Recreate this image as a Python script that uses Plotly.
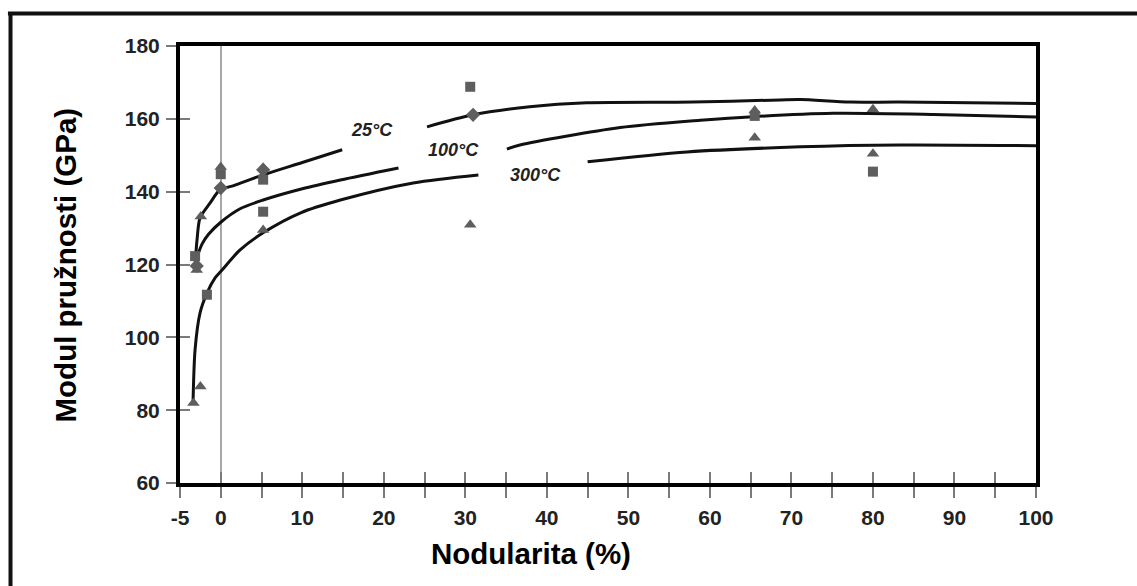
import plotly.graph_objects as go

# ---- data ----
c25_x = [-3.13, -2.9, -2.54, -1.3, -0.09, 1.5, 5.2, 10.0, 14.9, None, 25.3, 30.95, 37.9, 44.9, 57.9, 68.6, 71.1, 77.2, 83.3, 100]
c25_y = [120.5, 127.0, 132.8, 136.9, 140.5, 141.6, 144.6, 148.0, 151.5, None, 157.8, 161.1, 163.3, 164.4, 164.6, 165.2, 165.3, 164.6, 164.6, 164.2]

c100_x = [-2.9, -2.3, -1.5, 0.0, 2.37, 5.2, 10.0, 14.67, 21.8, None, 35.1, 36.7, 49.0, 58.8, 65.3, 75.1, 87.4, 100]
c100_y = [122.1, 125.6, 128.3, 131.6, 135.3, 137.7, 140.8, 143.2, 146.5, None, 151.7, 152.8, 157.6, 159.6, 160.6, 161.5, 161.2, 160.5]

c300_x = [-3.4, -3.15, -2.54, -1.68, -0.7, 0.16, 2.37, 5.19, 9.8, 14.67, 23.6, 31.6, None, 45.0, 57.2, 71.1, 83.3, 100]
c300_y = [82.0, 96.6, 106.7, 112.2, 116.3, 118.5, 124.0, 128.7, 134.2, 137.7, 142.4, 144.6, None, 148.2, 150.9, 152.3, 152.8, 152.6]

sq_x = [-3.15, -1.7, 0.0, 5.2, 5.2, 30.6, 65.5, 80.0]
sq_y = [122.3, 111.7, 144.8, 143.3, 134.5, 168.8, 160.8, 145.5]

tri_x = [-3.35, -2.5, -2.45, -2.95, 0.0, 5.2, 5.2, 30.6, 65.5, 65.5, 80.0, 80.0]
tri_y = [82.0, 86.5, 133.2, 118.5, 146.8, 146.6, 129.5, 130.9, 162.3, 154.8, 162.6, 150.4]

dia_x = [-2.95, 0.0, 5.2, 30.95]
dia_y = [119.6, 141.0, 146.0, 161.1]

labels_text = ["25°C", "100°C", "300°C"]
labels_x = [18.6, 28.5, 38.55]
labels_y = [156.9, 151.5, 144.6]

x_tickvals = [-5, 0, 5, 10, 15, 20, 25, 30, 35, 40, 45, 50, 55, 60, 65, 70, 75, 80, 85, 90, 95, 100]
x_ticktext = ["-5", "0", "", "10", "", "20", "", "30", "", "40", "", "50", "", "60", "", "70", "", "80", "", "90", "", "100"]
y_tickvals = [60, 80, 100, 120, 140, 160, 180]

x_title = "Nodularita (%)"
y_title = "Modul pružnosti (GPa)"

FONT = "Liberation Sans, Arial, sans-serif"
MK = "#5e5e5e"

fig = go.Figure()
for xs, ys in [(c25_x, c25_y), (c100_x, c100_y), (c300_x, c300_y)]:
    fig.add_trace(go.Scatter(x=xs, y=ys, mode="lines", line=dict(color="#111111", width=3, shape="spline", smoothing=0.8),
                             connectgaps=False, hoverinfo="skip", showlegend=False))
fig.add_trace(go.Scatter(x=sq_x, y=sq_y, mode="markers", marker=dict(symbol="square", size=10, color=MK), showlegend=False))
fig.add_trace(go.Scatter(x=tri_x, y=tri_y, mode="markers", marker=dict(symbol="triangle-up", size=11, color=MK), showlegend=False))
fig.add_trace(go.Scatter(x=dia_x, y=dia_y, mode="markers", marker=dict(symbol="diamond", size=11, color=MK), showlegend=False))
# invisible trace on overlay axes (used only to draw the inner half of crossing ticks)
fig.add_trace(go.Scatter(x=sq_x, y=sq_y, xaxis="x2", yaxis="y2", mode="markers", marker=dict(opacity=0), hoverinfo="skip", showlegend=False))

for t, x, y in zip(labels_text, labels_x, labels_y):
    fig.add_annotation(x=x, y=y, text="<b><i>" + t + "</i></b>", showarrow=False,
                       font=dict(family=FONT, size=18, color="#222222"))

tickfont = dict(family=FONT, size=21, color="#222222", weight="bold")
fig.update_layout(
    width=1137, height=586,
    margin=dict(l=180, r=101, t=46, b=103, autoexpand=False),
    paper_bgcolor="white", plot_bgcolor="white",
    xaxis=dict(range=[-5, 100], tickvals=x_tickvals, ticktext=x_ticktext, ticks="outside", ticklen=11,
               tickwidth=2, tickcolor="#7a7a7a", showline=True, linecolor="#000000", linewidth=4, mirror=True,
               showgrid=False, zeroline=True, zerolinecolor="#a8a8a8", zerolinewidth=2,
               tickfont=tickfont, ticklabelstandoff=2),
    yaxis=dict(range=[60, 180], tickvals=y_tickvals, ticks="outside", ticklen=10, tickwidth=2,
               tickcolor="#7a7a7a", showline=True, linecolor="#000000", linewidth=4, mirror=True,
               showgrid=False, zeroline=False, tickfont=tickfont, ticklabelstandoff=2),
    xaxis2=dict(range=[-5, 100], overlaying="x", anchor="y2", tickvals=x_tickvals, ticks="inside", ticklen=11,
                tickwidth=2, tickcolor="#7a7a7a", showticklabels=False, showline=False, showgrid=False, zeroline=False),
    yaxis2=dict(range=[60, 180], overlaying="y", anchor="x2", tickvals=y_tickvals, ticks="inside", ticklen=10,
                tickwidth=2, tickcolor="#7a7a7a", showticklabels=False, showline=False, showgrid=False, zeroline=False),
)

fig.add_annotation(xref="paper", yref="paper", x=-0.1332, y=0.5, xanchor="center", yanchor="middle",
                   text="<b>" + y_title + "</b>", textangle=-90,
                   showarrow=False, font=dict(family=FONT, size=29.5, color="#000000"))
fig.add_annotation(xref="paper", yref="paper", x=0.410, y=-0.1617, xanchor="center", yanchor="middle",
                   text="<b>" + x_title + "</b>",
                   showarrow=False, font=dict(family=FONT, size=29.5, color="#000000"))

# outer frame of the figure image
fig.add_shape(type="line", xref="paper", yref="paper", x0=-0.201, x1=1.12, y0=1.0743, y1=1.0743,
              line=dict(color="#111111", width=4))
fig.add_shape(type="line", xref="paper", yref="paper", x0=-0.198, x1=-0.198, y0=1.078, y1=-0.24,
              line=dict(color="#111111", width=4))

fig.write_html("out.html")
